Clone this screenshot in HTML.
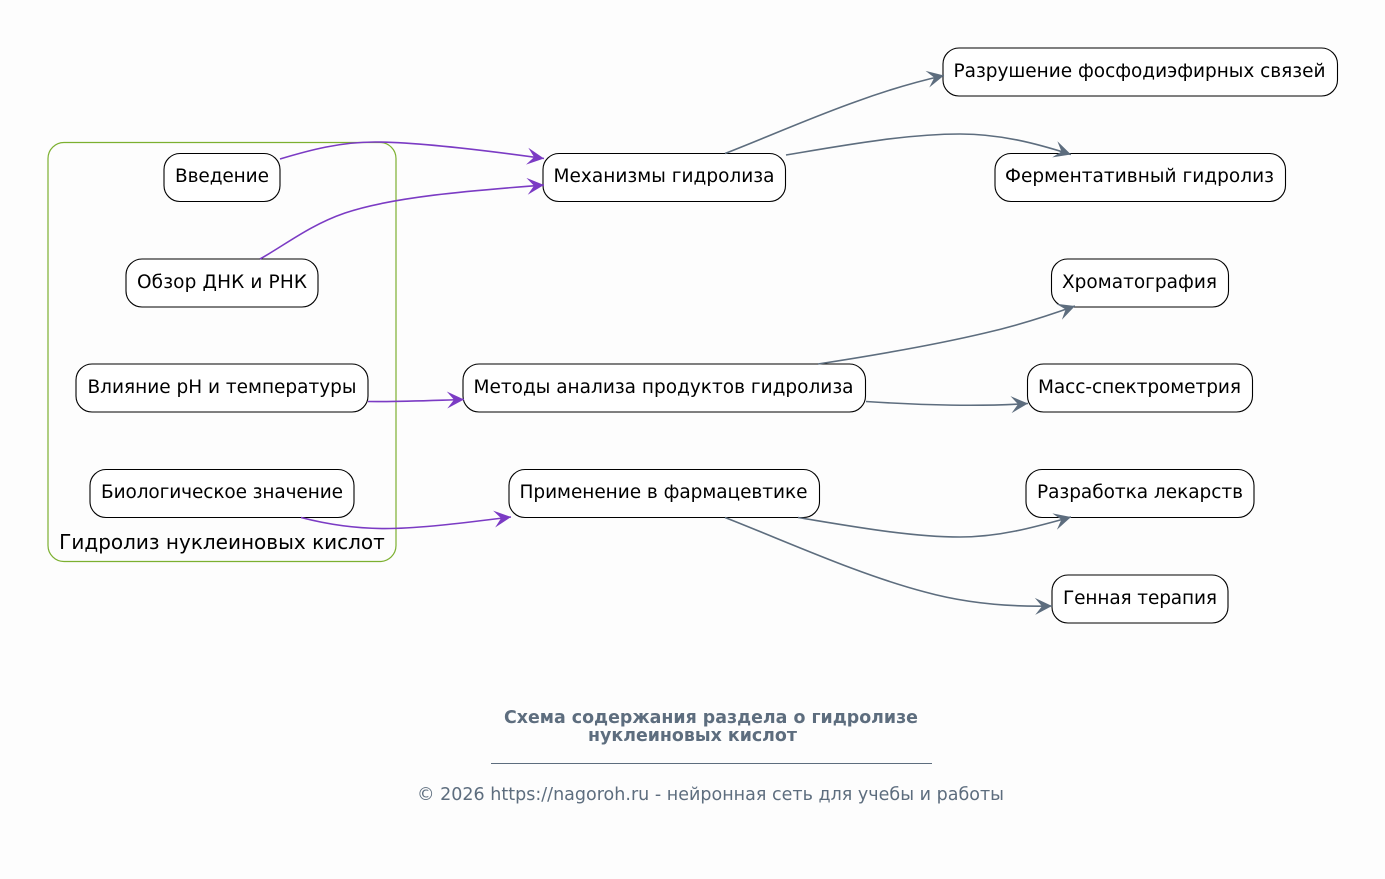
<!DOCTYPE html>
<html><head><meta charset="utf-8"><style>
html,body{margin:0;padding:0;background:#fdfdfd}
svg{display:block}
text{font-family:"DejaVu Sans",sans-serif}
.n{fill:#fff;stroke:#000;stroke-width:1.1}
.t{font-size:18.5px;fill:#000;text-anchor:middle}
.p{fill:none;stroke:#7b3bc4;stroke-width:1.6;marker-end:url(#mp)}
.g{fill:none;stroke:#5d6d7e;stroke-width:1.6;marker-end:url(#mg)}
</style></head><body>
<svg width="1385" height="879" viewBox="0 0 1385 879" xmlns="http://www.w3.org/2000/svg">
<defs>
<marker id="mp" markerUnits="userSpaceOnUse" markerWidth="24" markerHeight="24" refX="20" refY="12" orient="auto" overflow="visible"><path d="M3 3.500L20 12L3 20.500L10 12Z" fill="#7b3bc4"/></marker>
<marker id="mg" markerUnits="userSpaceOnUse" markerWidth="24" markerHeight="24" refX="20" refY="12" orient="auto" overflow="visible"><path d="M3 3.500L20 12L3 20.500L10 12Z" fill="#5d6d7e"/></marker>
</defs>
<rect width="1385" height="879" fill="#fdfdfd"/>
<rect x="48" y="142.500" width="348" height="419" rx="16" fill="#fdfdfd" stroke="#7cb030" stroke-width="1.200"/>
<text class="t" x="222" y="549" style="font-size:20px">Гидролиз нуклеиновых кислот</text>

<rect class="n" x="164" y="153.500" width="116" height="48" rx="16"/><text class="t" x="222" y="182" textLength="94">Введение</text>
<rect class="n" x="126" y="259" width="192" height="48" rx="16"/><text class="t" x="222" y="288" textLength="170">Обзор ДНК и РНК</text>
<rect class="n" x="76" y="364" width="292" height="48" rx="16"/><text class="t" x="222" y="393" textLength="269">Влияние pH и температуры</text>
<rect class="n" x="90" y="469.500" width="264" height="48" rx="16"/><text class="t" x="222" y="498" textLength="242">Биологическое значение</text>

<rect class="n" x="543" y="153.500" width="242.500" height="48" rx="16"/><text class="t" x="664" y="182" textLength="221">Механизмы гидролиза</text>
<rect class="n" x="463" y="364" width="402.500" height="48" rx="16"/><text class="t" x="663.500" y="393" textLength="380">Методы анализа продуктов гидролиза</text>
<rect class="n" x="509" y="469.500" width="310.500" height="48" rx="16"/><text class="t" x="663.500" y="498" textLength="288">Применение в фармацевтике</text>

<rect class="n" x="943" y="48" width="394.500" height="48" rx="16"/><text class="t" x="1139.500" y="77" textLength="372">Разрушение фосфодиэфирных связей</text>
<rect class="n" x="995" y="153.500" width="290.500" height="48" rx="16"/><text class="t" x="1139.500" y="182" textLength="269">Ферментативный гидролиз</text>
<rect class="n" x="1051.500" y="259" width="177" height="48" rx="16"/><text class="t" x="1139.500" y="288" textLength="155">Хроматография</text>
<rect class="n" x="1027.500" y="364" width="225" height="48" rx="16"/><text class="t" x="1139.500" y="393" textLength="203">Масс-спектрометрия</text>
<rect class="n" x="1026" y="469.500" width="228" height="48" rx="16"/><text class="t" x="1140" y="498" textLength="206">Разработка лекарств</text>
<rect class="n" x="1052" y="575" width="176" height="48" rx="16"/><text class="t" x="1140" y="604" textLength="154">Генная терапия</text>

<path class="p" d="M280 159C310 150 340 142 375 142C420 142 490 151 544 158.500"/>
<path class="p" d="M260 259C285 245 310 225 345 213C395 196 480 190 544 185"/>
<path class="p" d="M368 401.500C395 402 430 400.500 464 399.500"/>
<path class="p" d="M301 517.500C330 525 360 529 390 528.500C425 528 470 522 511 517"/>

<path class="g" d="M725 153.500C765 138 810 118 855 102C885 91 915 82 944 75.500"/>
<path class="g" d="M786 155C840 146 905 134 960 134C1000 134 1035 143 1071 154.500"/>
<path class="g" d="M818 364C870 356 930 346 985 333C1020 325 1050 315 1075 306"/>
<path class="g" d="M866 401.500C920 405 975 407 1028 403.500"/>
<path class="g" d="M798 517.500C850 526 910 537 960 537C1000 537 1035 527 1071 517"/>
<path class="g" d="M725 517.500C790 543 860 575 925 592C965 603 1010 607 1052 606"/>

<text x="711" y="723" text-anchor="middle" style="font-size:17.400px;font-weight:bold;fill:#5d6d7e">Схема содержания раздела о гидролизе</text>
<text x="692.500" y="741" text-anchor="middle" style="font-size:17.400px;font-weight:bold;fill:#5d6d7e">нуклеиновых кислот</text>
<line x1="491" y1="763.500" x2="932" y2="763.500" stroke="#5d6d7e" stroke-width="1"/>
<text x="710.500" y="800" text-anchor="middle" textLength="587" style="font-size:17.500px;fill:#5d6d7e">© 2026 https://nagoroh.ru - нейронная сеть для учебы и работы</text>
</svg>
</body></html>
